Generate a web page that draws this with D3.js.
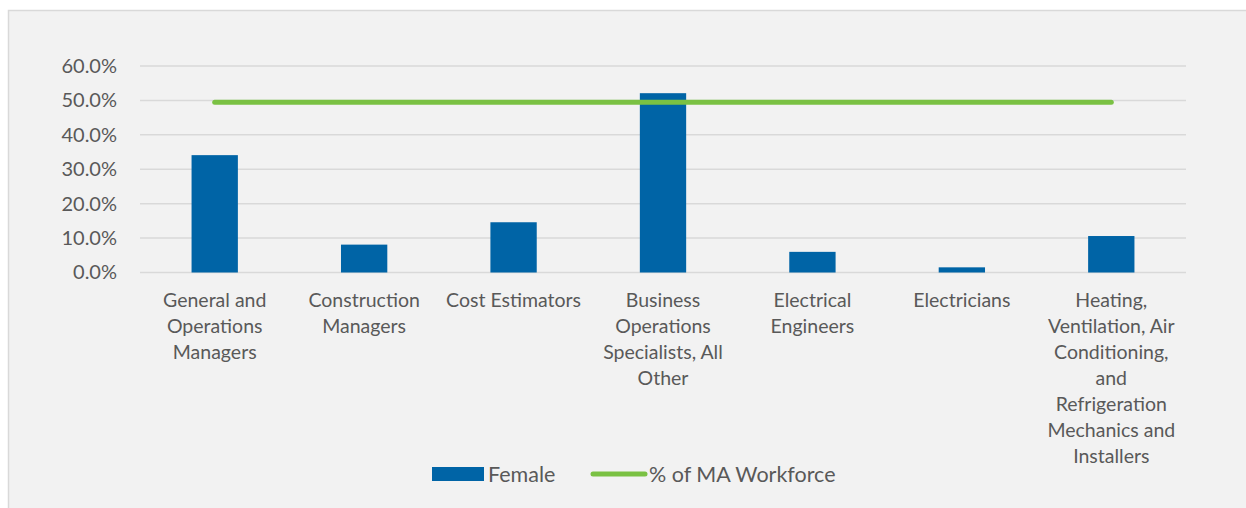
<!DOCTYPE html>
<html>
<head>
<meta charset="utf-8">
<script src="https://cdn.jsdelivr.net/npm/d3@7"></script>
<style>
  body { margin: 0; background: #fff; }
  svg { display: block; font-family: "Lato", "Open Sans", sans-serif; }
</style>
</head>
<body>
<svg id="chart" width="1246" height="508"></svg>
<script>
// Data
const categories = [
    ["General and", "Operations", "Managers"],
    ["Construction", "Managers"],
    ["Cost Estimators"],
    ["Business", "Operations", "Specialists, All", "Other"],
    ["Electrical", "Engineers"],
    ["Electricians"],
    ["Heating,", "Ventilation, Air", "Conditioning,", "and", "Refrigeration", "Mechanics and", "Installers"]
];
const femaleShare = [34.1, 8.1, 14.6, 52.1, 6.0, 1.5, 10.6];
const maWorkforce = [49.5, 49.5, 49.5, 49.5, 49.5, 49.5, 49.5];
const yTicks = [0, 10, 20, 30, 40, 50, 60];

const barColor = "#0064a6";
const lineColor = "#7ac143";
const textColor = "#595959";

const svg = d3.select("#chart");

// Chart background with border
svg.append("rect")
    .attr("x", 8.5).attr("y", 10.5)
    .attr("width", 1260).attr("height", 520)
    .attr("fill", "#f2f2f2")
    .attr("stroke", "#d9d9d9")
    .attr("stroke-width", 1.5);

const margin = { top: 66, right: 60, bottom: 235.5, left: 140 };
const width = 1246 - margin.left - margin.right;
const height = 508 - margin.top - margin.bottom;

const g = svg.append("g")
    .attr("transform", "translate(" + margin.left + "," + margin.top + ")");

const x = d3.scaleBand()
    .domain(d3.range(categories.length))
    .range([0, width])
    .paddingInner(0.69)
    .paddingOuter(0.345);

const xCenter = d3.scaleBand()
    .domain(d3.range(categories.length))
    .range([0, width]);

const y = d3.scaleLinear()
    .domain([0, 60])
    .range([height, 0]);

// Gridlines
g.append("g")
    .selectAll("line")
    .data(yTicks)
    .enter().append("line")
    .attr("x1", 0).attr("x2", width)
    .attr("y1", d => y(d)).attr("y2", d => y(d))
    .attr("stroke", "#d9d9d9")
    .attr("stroke-width", 1.5);

// Y axis labels
const yAxis = g.append("g")
    .call(d3.axisLeft(y).tickValues(yTicks).tickSize(0).tickPadding(23)
        .tickFormat(d => d.toFixed(1) + "%"));
yAxis.select(".domain").remove();
yAxis.selectAll("text")
    .attr("fill", textColor)
    .style("font-size", "20px")
    .style("font-family", "Lato, 'Open Sans', sans-serif");

// Bars
g.selectAll("rect.bar")
    .data(femaleShare)
    .enter().append("rect")
    .attr("class", "bar")
    .attr("x", (d, i) => x(i))
    .attr("y", d => y(d))
    .attr("width", x.bandwidth())
    .attr("height", d => height - y(d))
    .attr("fill", barColor);

// Line series
const line = d3.line()
    .x((d, i) => xCenter(i) + xCenter.bandwidth() / 2)
    .y(d => y(d));

g.append("path")
    .datum(maWorkforce)
    .attr("d", line)
    .attr("fill", "none")
    .attr("stroke", lineColor)
    .attr("stroke-width", 5)
    .attr("stroke-linecap", "round");

// Category labels
const labels = g.append("g")
    .selectAll("text")
    .data(categories)
    .enter().append("text")
    .attr("text-anchor", "middle")
    .attr("fill", textColor)
    .style("font-size", "19.5px")
    .attr("transform", (d, i) => "translate(" + (xCenter(i) + xCenter.bandwidth() / 2) + "," + (height + 34) + ")");

labels.selectAll("tspan")
    .data(d => d)
    .enter().append("tspan")
    .attr("x", 0)
    .attr("y", (d, i) => i * 26)
    .text(d => d);

// Legend
const legend = svg.append("g").attr("transform", "translate(432,474)");

legend.append("rect")
    .attr("x", 0).attr("y", -7)
    .attr("width", 52).attr("height", 14)
    .attr("fill", barColor);

legend.append("text")
    .attr("x", 56).attr("y", 0)
    .attr("dy", "0.35em")
    .attr("fill", textColor)
    .style("font-size", "21.5px")
    .text("Female");

legend.append("line")
    .attr("x1", 161).attr("x2", 213)
    .attr("y1", 0).attr("y2", 0)
    .attr("stroke", lineColor)
    .attr("stroke-width", 5)
    .attr("stroke-linecap", "round");

legend.append("text")
    .attr("x", 217).attr("y", 0)
    .attr("dy", "0.35em")
    .attr("fill", textColor)
    .style("font-size", "21.5px")
    .text("% of MA Workforce");
</script>
</body>
</html>
